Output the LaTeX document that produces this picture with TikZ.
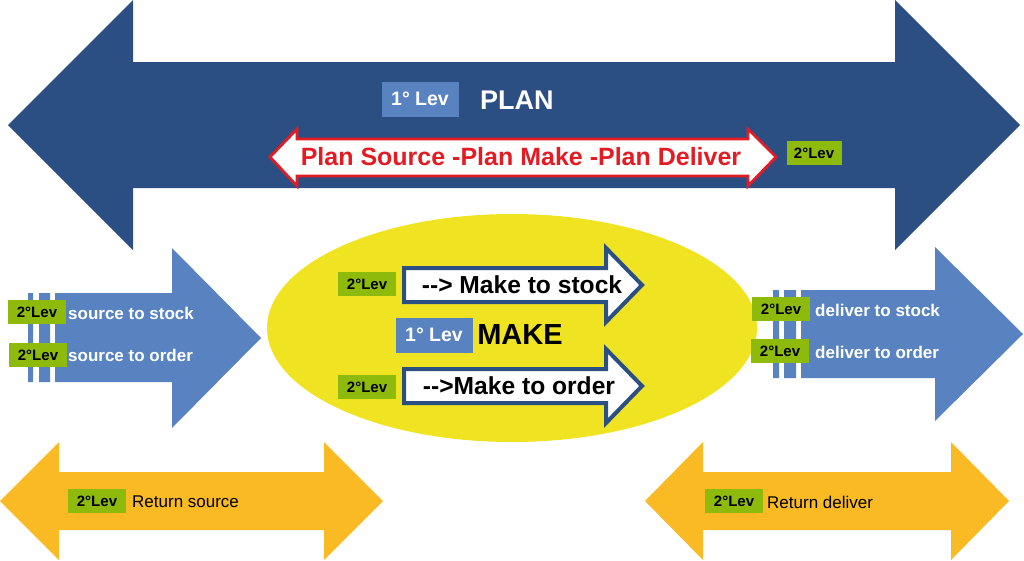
\documentclass[tikz,border=0pt]{standalone}
\usepackage{fontspec}
\setmainfont{Liberation Sans}
\usepackage{tikz}
\usetikzlibrary{positioning}
\definecolor{PlanBlue}{RGB}{44,79,131}
\definecolor{LevBlue}{RGB}{88,131,192}
\definecolor{MakeYellow}{RGB}{240,228,34}
\definecolor{ReturnOrange}{RGB}{249,186,36}
\definecolor{LevGreen}{RGB}{142,186,12}
\definecolor{PlanRed}{RGB}{227,27,35}
\newcommand{\fsz}[1]{\fontsize{#1}{#1}\selectfont}
\tikzset{
  levone/.style={fill=LevBlue, text=white, font=\bfseries\fsz{19.5}, minimum width=77pt, minimum height=35pt, inner sep=0pt},
  levtwo/.style={fill=LevGreen, text=black, font=\bfseries\fsz{15}, minimum width=58pt, minimum height=24pt, inner sep=0pt},
  flowtxt/.style={text=white, font=\bfseries\fsz{17}, inner sep=0pt, anchor=west},
  rettxt/.style={text=black, font=\fsz{17}, inner sep=0pt, anchor=west}
}
\begin{document}
\begin{tikzpicture}[x=1pt, y=-1pt]
        \useasboundingbox (0,0) rectangle (1024,560);
        \fill[PlanBlue] (8,125) -- (133,0) -- (133,62) -- (895,62) -- (895,0) -- (1020,125) -- (895,250) -- (895,188) -- (133,188) -- (133,250) -- cycle;
        \draw[PlanRed, line width=2.8pt, fill=white, line join=miter] (270,157) -- (297,129) -- (297,139) -- (748,139) -- (748,129) -- (776,157) -- (748,186) -- (748,176) -- (297,176) -- (297,186) -- cycle;
        \fill[MakeYellow] (512,328) ellipse [x radius=245pt, y radius=114pt];
        \draw[PlanBlue, line width=4pt, fill=white, line join=miter] (404,268) -- (606,268) -- (606,248) -- (642,285) -- (606,322) -- (606,302) -- (404,302) -- cycle;
        \draw[PlanBlue, line width=4pt, fill=white, line join=miter] (404,369) -- (606,369) -- (606,349) -- (642,386) -- (606,423) -- (606,403) -- (404,403) -- cycle;
        % source and deliver
        \fill[LevBlue] (28,293) rectangle (33,382) (39,293) rectangle (50,382);
        \fill[LevBlue] (55,293) -- (172,293) -- (172,248) -- (261,338) -- (172,428) -- (172,382) -- (55,382) -- cycle;
        \fill[LevBlue] (773,290) rectangle (779,378) (784,290) rectangle (796,378);
        \fill[LevBlue] (801,290) -- (935,290) -- (935,247) -- (1023,334) -- (935,421) -- (935,378) -- (801,378) -- cycle;
        % return
        \fill[ReturnOrange] (0,501) -- (59,442) -- (59,472) -- (324,472) -- (324,442) -- (383,501) -- (324,560) -- (324,530) -- (59,530) -- (59,560) -- cycle;
        \fill[ReturnOrange] (645,501) -- (703,442) -- (703,472) -- (951,472) -- (951,442) -- (1009,501) -- (951,560) -- (951,530) -- (703,530) -- (703,560) -- cycle;

        \node[levone] (planlev) at (420,99) {1° Lev};
        \node[text=white, font=\bfseries\fsz{27}, inner sep=0pt, anchor=west] (plan) at (480,100) {PLAN};
        \node[text=PlanRed, font=\bfseries\fsz{25}, inner sep=0pt] (plansub) at (521,157) {Plan Source -Plan Make -Plan Deliver};
        \node[levtwo, minimum width=55pt] (plansublev) at (814,153) {2°Lev};

        \node[font=\bfseries\fsz{24.6}, inner sep=0pt] (mkstock) at (522,285) {-\kern0pt-> Make to stock};
        \node[font=\bfseries\fsz{24.6}, inner sep=0pt] (mkorder) at (519,386) {-\kern0pt->Make to order};
        \node[levtwo] (mkstocklev) at (367,284) {2°Lev};
        \node[levtwo] (mkorderlev) at (367,387) {2°Lev};
        \node[levone] (makelev) at (434,335) {1° Lev};
        \node[font=\bfseries\fsz{29}, inner sep=0pt] (make) at (520,335) {MAKE};

        \node[levtwo] (srcstocklev) at (37,312) {2°Lev};
        \node[levtwo] (srcorderlev) at (38,355) {2°Lev};
        \node[flowtxt] (srcstock) at (68,313) {source to stock};
        \node[flowtxt] (srcorder) at (68,355) {source to order};
        \node[levtwo] (dlvstocklev) at (781,309) {2°Lev};
        \node[levtwo] (dlvorderlev) at (780,351) {2°Lev};
        \node[flowtxt] (dlvstock) at (815,310) {deliver to stock};
        \node[flowtxt] (dlvorder) at (815,352) {deliver to order};

        \node[levtwo] (retsrclev) at (97,501) {2°Lev};
        \node[rettxt] (retsrc) at (132,502) {Return source};
        \node[levtwo] (retdlvlev) at (734,501) {2°Lev};
        \node[rettxt] (retdlv) at (767,502) {Return deliver};
      \end{tikzpicture}
\end{document}
